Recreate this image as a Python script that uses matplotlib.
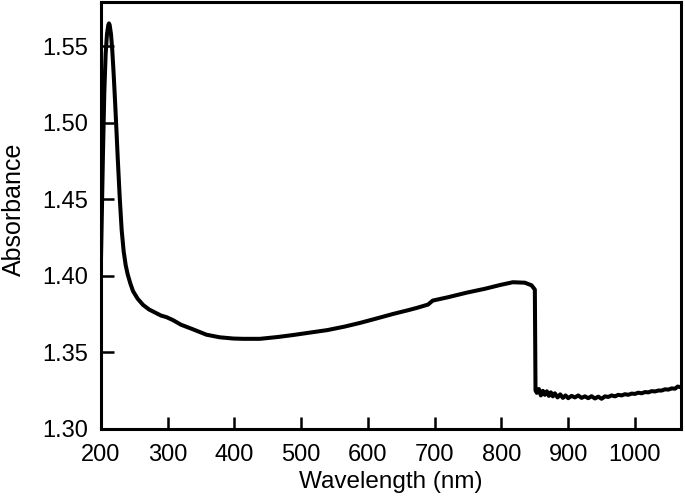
import matplotlib
matplotlib.use("Agg")
import matplotlib.pyplot as plt
from matplotlib.ticker import FormatStrFormatter

plt.rcParams['font.family'] = ['Liberation Sans', 'DejaVu Sans']

# UV-vis spectrum
wavelength = [200, 203, 205, 207, 209, 211, 212, 213, 215, 217, 219, 221, 223, 225,
              228, 231, 234, 237, 240, 244, 248, 255, 263, 272, 281, 290, 298,
              308, 320, 338, 358, 378, 398, 413, 438, 465, 488, 515, 539, 565,
              588, 612, 637, 660, 673, 690, 697, 720, 748, 775, 798, 817, 835,
              845, 850, 851,
              853, 856, 859, 862, 865, 868, 871, 874, 877, 880, 884, 888, 892,
              896, 900, 905, 910, 915, 920, 925, 930, 935, 940, 945, 950, 955,
              960, 965, 970, 975, 980, 985, 990, 995, 1000, 1005, 1010, 1015,
              1020, 1025, 1030, 1035, 1040, 1045, 1050, 1055, 1060, 1064, 1068]
absorbance = [1.410, 1.480, 1.520, 1.545, 1.558, 1.564, 1.565, 1.564, 1.558, 1.547,
              1.532, 1.515, 1.497, 1.478, 1.452, 1.430, 1.416, 1.407, 1.401, 1.395,
              1.390, 1.385, 1.381, 1.378, 1.376, 1.374, 1.373,
              1.371, 1.368, 1.365, 1.3615, 1.3598, 1.3590, 1.3588, 1.3588, 1.3600,
              1.3613, 1.3630, 1.3645, 1.3668, 1.3692, 1.3720, 1.3750, 1.3775,
              1.3790, 1.3812, 1.3838, 1.3860, 1.3890, 1.3915, 1.3940, 1.3958,
              1.3955, 1.3938, 1.3910, 1.3250,
              1.3235, 1.3260, 1.3218, 1.3248, 1.3222, 1.3245, 1.3215, 1.3238,
              1.3212, 1.3232, 1.3205, 1.3225, 1.3202, 1.3218, 1.3200, 1.3215,
              1.3205, 1.3218, 1.3202, 1.3212, 1.3200, 1.3213, 1.3198, 1.3210,
              1.3196, 1.3212, 1.3208, 1.3218, 1.3212, 1.3222, 1.3218, 1.3226,
              1.3222, 1.3230, 1.3228, 1.3236, 1.3232, 1.3240, 1.3238, 1.3246,
              1.3244, 1.3250, 1.3250, 1.3258, 1.3256, 1.3264, 1.3262, 1.3276, 1.3272]

x_ticks = [200, 300, 400, 500, 600, 700, 800, 900, 1000]
y_ticks = [1.30, 1.35, 1.40, 1.45, 1.50, 1.55]

fig = plt.figure(figsize=(6.85, 4.98), dpi=100)
ax = fig.add_axes([0.1474, 0.139, 0.8468, 0.857])

ax.plot(wavelength, absorbance, color='black', lw=2.9, solid_joinstyle='round')

ax.set_xlim(200, 1069)
ax.set_ylim(1.30, 1.579)
ax.set_xticks(x_ticks)
ax.set_yticks(y_ticks)
ax.yaxis.set_major_formatter(FormatStrFormatter('%.2f'))
ax.tick_params(direction='in', length=9, width=1.8, labelsize=17, colors='black')
ax.tick_params(axis='y', pad=9.5)
ax.tick_params(axis='x', pad=11)
for s in ax.spines.values():
    s.set_linewidth(2.2)

ax.set_xlabel('Wavelength (nm)', fontsize=17.5)
ax.set_ylabel('Absorbance', fontsize=18)
ax.xaxis.set_label_coords(0.5, -0.1)
ax.yaxis.set_label_coords(-0.130, 0.515)

fig.savefig('out.png', dpi=100)
